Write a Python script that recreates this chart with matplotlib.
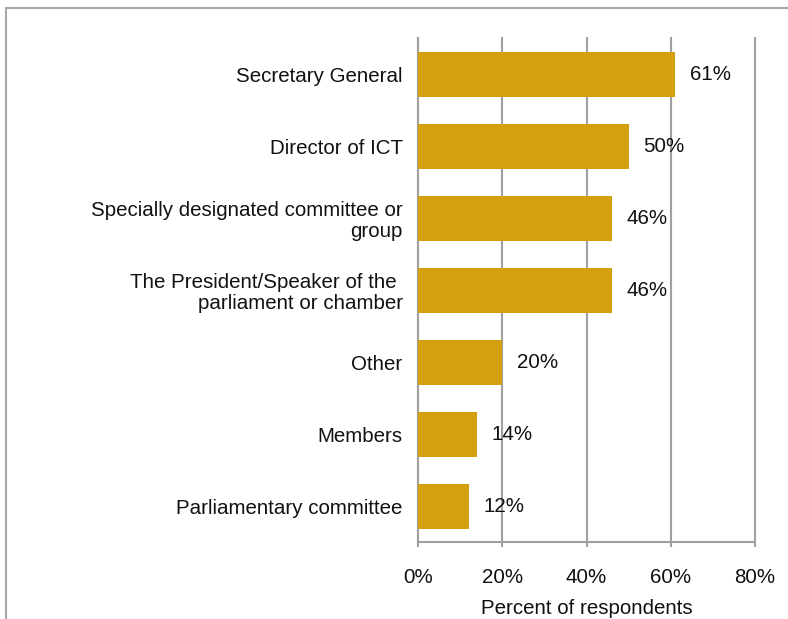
import matplotlib.pyplot as plt
from matplotlib.patches import Rectangle

plt.rcParams['font.family'] = ['Liberation Sans', 'DejaVu Sans']

# Who is responsible, top of chart first
roles = ['Secretary General', 'Director of ICT',
         'Specially designated committee or\ngroup',
         'The President/Speaker of the \nparliament or chamber',
         'Other', 'Members', 'Parliamentary committee']
pct = [61, 50, 46, 46, 20, 14, 12]
ticks = [0, 20, 40, 60, 80]
tick_labels = ['0%', '20%', '40%', '60%', '80%']

bar_color = '#D5A010'
grey = '#A0A0A0'
ink = '#111111'
fs = 14.8

fig = plt.figure(figsize=(7.88, 6.19), dpi=100)
ax = fig.add_axes([418 / 788, 1 - 542 / 619, 337 / 788, 504 / 619])

y = list(range(len(roles)))
ax.barh(y, pct, height=0.625, color=bar_color, zorder=3)
for yi, v in zip(y, pct):
    ax.text(v + 3.5, yi, f'{v}%', va='center', ha='left', fontsize=fs,
            color=ink, zorder=4)

ax.set_xlim(0, 80)
ax.set_ylim(len(roles) - 0.5, -0.5)
ax.set_xticks(ticks)
ax.set_xticklabels(tick_labels, fontsize=fs, color=ink)
ax.set_yticks(y)
ax.set_yticklabels(roles, fontsize=fs, color=ink, linespacing=1.15)
ax.tick_params(axis='y', length=0, pad=11)
ax.tick_params(axis='x', length=3.6, width=1.5, color=grey, pad=15)
ax.set_xlabel('Percent of respondents', fontsize=fs, color=ink,
              labelpad=9)

ax.grid(axis='x', color=grey, linewidth=1.5, zorder=1)
for line in ax.get_xgridlines():
    line.set_clip_on(False)
for side in ['top', 'right']:
    ax.spines[side].set_visible(False)
for side in ['left', 'bottom']:
    ax.spines[side].set_color(grey)
    ax.spines[side].set_linewidth(1.5)

# outer frame, cut off at the right and bottom edges
fig.patches.append(Rectangle((6 / 788, -0.1), 1.2, 1 - 8 / 619 + 0.1,
                             transform=fig.transFigure, fill=False,
                             edgecolor='#A6A6A6', linewidth=1.5))

fig.savefig('out.png', dpi=100)
